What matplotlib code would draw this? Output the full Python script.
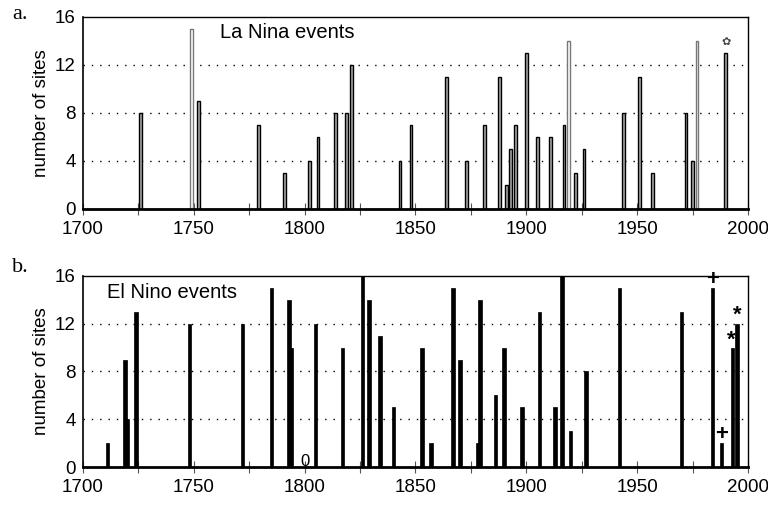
import matplotlib.pyplot as plt
import numpy as np

plt.rcParams['font.family'] = ['Liberation Sans', 'DejaVu Sans']

# La Nina events (panel a)
nina_years = [1726, 1752, 1779, 1791, 1802, 1806, 1814, 1819, 1821, 1843, 1848,
              1864, 1873, 1881, 1888, 1891, 1893, 1895, 1900, 1905, 1911, 1917,
              1922, 1926, 1944, 1951, 1957, 1972, 1975, 1990]
nina_sites = [8, 9, 7, 3, 4, 6, 8, 8, 12, 4, 7,
              11, 4, 7, 11, 2, 5, 7, 13, 6, 6, 7,
              3, 5, 8, 11, 3, 8, 4, 13]
# lighter (open) bars
nina_light_years = [1749, 1919, 1977]
nina_light_sites = [15, 14, 14]

# El Nino events (panel b)
nino_years = [1711, 1719, 1720, 1724, 1748, 1772, 1785, 1793, 1794, 1805, 1817,
              1826, 1829, 1834, 1840, 1853, 1857, 1867, 1870, 1878, 1879, 1886,
              1890, 1898, 1906, 1913, 1916, 1920, 1927, 1942, 1970, 1984, 1988,
              1993, 1995]
nino_sites = [2, 9, 4, 13, 12, 12, 15, 14, 10, 12, 10,
              16, 14, 11, 5, 10, 2, 15, 9, 2, 14, 6,
              10, 5, 13, 5, 16, 3, 8, 15, 13, 15, 2,
              10, 12]

x_ticks = np.arange(1700, 2001, 25)
x_labels = ['1700', '', '1750', '', '1800', '', '1850', '', '1900', '', '1950', '', '2000']
y_ticks = [0, 4, 8, 12, 16]

fig = plt.figure(figsize=(7.68, 5.11), dpi=100)
ax1 = fig.add_axes([0.108, 0.591, 0.866, 0.376])
ax2 = fig.add_axes([0.108, 0.086, 0.866, 0.374])


def style_axis(ax):
    ax.set_xlim(1700, 2000)
    ax.set_ylim(0, 16)
    ax.set_xticks(x_ticks)
    ax.set_xticklabels(x_labels)
    ax.set_yticks(y_ticks)
    ax.tick_params(axis='x', direction='inout', length=9, width=0.8, color='#555555',
                   labelsize=13.5, pad=4)
    ax.tick_params(axis='y', length=0, labelsize=13.5, pad=5)
    for y in [4, 8, 12]:
        ax.axhline(y, color='black', linestyle=(0, (1, 5)), linewidth=1, zorder=0)
    for s in ['top', 'right']:
        ax.spines[s].set_linewidth(1)
    ax.spines['left'].set_linewidth(1.2)
    ax.spines['bottom'].set_linewidth(2)
    ax.set_ylabel('number of sites', fontsize=13.5, labelpad=4)


# Panel a
ax1.bar(nina_years, nina_sites, width=1.3, color='#a8a8a8', edgecolor='black', linewidth=1, zorder=2)
ax1.bar(nina_light_years, nina_light_sites, width=1.3, color='white', edgecolor='#777777',
        linewidth=1, zorder=2)
style_axis(ax1)
ax1.text(1762, 14.7, 'La Nina events', fontsize=14.5, ha='left', va='center')
ax1.text(1990, 13.9, '✿', fontsize=8, ha='center', va='center', color='#444444')
fig.text(0.016, 0.971, 'a.', fontsize=16, family='Liberation Serif', va='center')

# Panel b
ax2.bar(nino_years, nino_sites, width=1.6, color='black', edgecolor='black', linewidth=0.5, zorder=2)
style_axis(ax2)
ax2.text(1711, 14.6, 'El Nino events', fontsize=14.5, ha='left', va='center')
ax2.text(1800, 0.45, '0', fontsize=12, ha='center', va='center')
ax2.text(1984, 15.7, '+', fontsize=16, ha='center', va='center', fontweight='bold')
ax2.text(1988, 2.7, '+', fontsize=16, ha='center', va='center', fontweight='bold')
ax2.text(1992.5, 10.6, '*', fontsize=16, ha='center', va='center', fontweight='bold')
ax2.text(1995, 12.7, '*', fontsize=16, ha='center', va='center', fontweight='bold')
fig.text(0.016, 0.476, 'b.', fontsize=16, family='Liberation Serif', va='center')

fig.savefig('out.png', dpi=100)
